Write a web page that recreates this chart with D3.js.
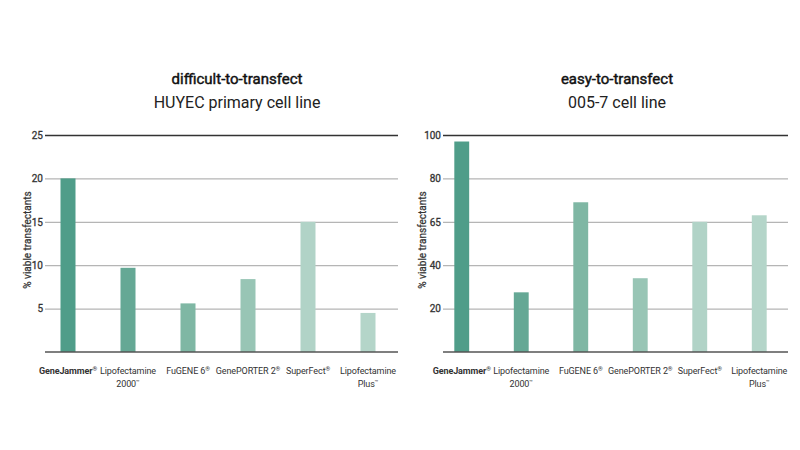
<!DOCTYPE html>
<html>
<head>
<meta charset="utf-8">
<script src="https://cdn.jsdelivr.net/npm/d3@7"></script>
<style>
  body { margin: 0; background: #fff; }
  svg { font-family: Roboto, "Noto Sans", sans-serif; }
</style>
</head>
<body>
<svg id="chart" width="800" height="450"></svg>
<script>
// categories, two lines each where the label wraps
const categories = [
  ["GeneJammer®"],
  ["Lipofectamine", "2000™"],
  ["FuGENE 6®"],
  ["GenePORTER 2®"],
  ["SuperFect®"],
  ["Lipofectamine", "Plus™"]
];

// difficult-to-transfect, HUYEC primary cells
const huyecValues = [20, 9.7, 5.6, 8.4, 15, 4.5];
const huyecTicks = [5, 10, 15, 20, 25];
const huyecTickLabels = ["5", "10", "15", "20", "25"];

// easy-to-transfect, 005-7 cells (tick labels as printed on the original)
const line0057Values = [97, 27.5, 69, 34, 60, 63];
const line0057Ticks = [20, 40, 60, 80, 100];
const line0057TickLabels = ["20", "40", "65", "80", "100"];

const barColors = ["#4f9d89", "#65a895", "#7fb7a4", "#98c5b5", "#b1d3c7", "#b4d5c9"];

const svg = d3.select("#chart");

function drawPanel(opts) {
  const g = svg.append("g");
  const top = 135, bottom = 352;

  const x = d3.scaleBand()
    .domain(d3.range(categories.length))
    .range([opts.x0, opts.x1])
    .paddingInner(0.75)
    .paddingOuter(0.375);

  const y = d3.scaleLinear()
    .domain([0, opts.max])
    .range([bottom, top]);

  // titles
  g.append("text")
    .attr("x", opts.titleX)
    .attr("y", 84)
    .attr("text-anchor", "middle")
    .attr("font-size", 15)
    .attr("fill", "#111")
    .attr("stroke", "#111")
    .attr("stroke-width", 0.45)
    .text(opts.title);
  g.append("text")
    .attr("x", opts.titleX)
    .attr("y", 108)
    .attr("text-anchor", "middle")
    .attr("font-size", 16)
    .attr("fill", "#222")
    .text(opts.subtitle);

  // gridlines + tick labels
  const axis = g.append("g")
    .attr("transform", `translate(${opts.lineX0},0)`)
    .call(
      d3.axisLeft(y)
        .tickValues(opts.ticks)
        .tickFormat((d, i) => opts.tickLabels[i])
        .tickSize(-(opts.lineX1 - opts.lineX0))
        .tickPadding(2)
    )
    .call((a) => a.select(".domain").remove());
  axis.selectAll(".tick line")
    .attr("stroke", (d) => (d === opts.max ? "#333" : "#b5b5b5"))
    .attr("stroke-width", 1.3);
  axis.selectAll(".tick text")
    .attr("font-size", 10)
    .attr("fill", "#333")
    .attr("stroke", "#333")
    .attr("stroke-width", 0.3)
    .attr("font-family", "Roboto, sans-serif");

  // y label
  g.append("text")
    .attr("transform", `translate(${opts.yLabelX},240) rotate(-90)`)
    .attr("text-anchor", "middle")
    .attr("font-size", 10)
    .attr("fill", "#333")
    .attr("stroke", "#333")
    .attr("stroke-width", 0.25)
    .text("% viable transfectants");

  // bars
  g.append("g")
    .selectAll("rect")
    .data(opts.values)
    .join("rect")
    .attr("x", (d, i) => x(i))
    .attr("width", x.bandwidth())
    .attr("y", (d) => y(d))
    .attr("height", (d) => y(0) - y(d))
    .attr("fill", (d, i) => barColors[i]);

  // baseline
  g.append("line")
    .attr("x1", opts.lineX0)
    .attr("x2", opts.lineX1)
    .attr("y1", y(0))
    .attr("y2", y(0))
    .attr("stroke", "#555")
    .attr("stroke-width", 1.5);

  // category labels, with small raised ® / ™
  const labels = g.append("g")
    .selectAll("text")
    .data(categories)
    .join("text")
    .attr("text-anchor", "middle")
    .attr("font-size", 9)
    .attr("letter-spacing", -0.1)
    .attr("fill", "#333")
    .attr("font-weight", (d, i) => (i === 0 ? 700 : 400));

  labels.each(function (lines, i) {
    const t = d3.select(this);
    const cx = x(i) + x.bandwidth() / 2;
    lines.forEach((line, k) => {
      const m = line.match(/^(.*?)([®™]?)$/);
      t.append("tspan")
        .attr("x", cx)
        .attr("y", 374 + k * 12.5)
        .text(m[1]);
      if (m[2]) {
        t.append("tspan")
          .attr("dy", -3)
          .attr("font-size", 6)
          .text(m[2]);
      }
    });
  });
}

drawPanel({
  title: "difficult-to-transfect",
  subtitle: "HUYEC primary cell line",
  titleX: 237,
  values: huyecValues,
  max: 25,
  ticks: huyecTicks,
  tickLabels: huyecTickLabels,
  x0: 38, x1: 398,
  lineX0: 45, lineX1: 398,
  yLabelX: 31
});

drawPanel({
  title: "easy-to-transfect",
  subtitle: "005-7 cell line",
  titleX: 617,
  values: line0057Values,
  max: 100,
  ticks: line0057Ticks,
  tickLabels: line0057TickLabels,
  x0: 432, x1: 789,
  lineX0: 443, lineX1: 788,
  yLabelX: 426
});
</script>
</body>
</html>
